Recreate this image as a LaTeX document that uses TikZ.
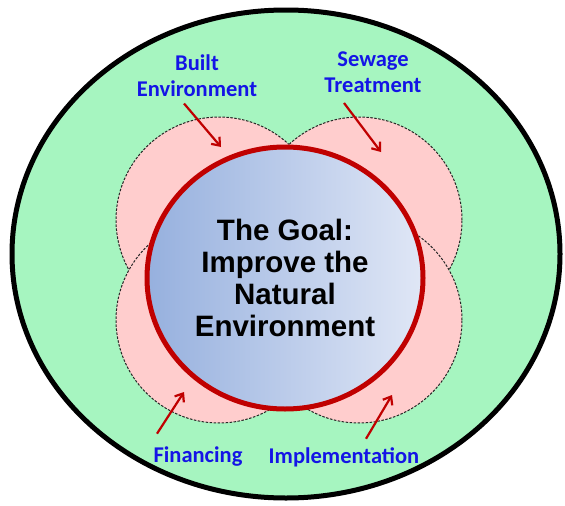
\documentclass[tikz,border=0pt]{standalone}
\usepackage{fontspec}
\setmainfont{Liberation Sans}
\newfontfamily\labelfont{Carlito}
\usetikzlibrary{arrows.meta}
\definecolor{outergreen}{RGB}{166,245,192}
\definecolor{petalpink}{RGB}{255,205,205}
\definecolor{goalred}{RGB}{192,0,0}
\definecolor{goalblueL}{RGB}{150,176,222}
\definecolor{goalblueR}{RGB}{224,231,246}
\definecolor{labelblue}{RGB}{20,20,230}

\begin{document}
\begin{tikzpicture}[x=1pt,y=-1pt]
      \useasboundingbox (0,0) rectangle (565,506);
      % outer field
      \draw[line width=5pt, fill=outergreen] (286,254) ellipse [x radius=274pt, y radius=244pt];
      % four petals
      \begin{scope}[every path/.style={fill=petalpink, draw=black!85, line width=1pt, dash pattern=on 2.5pt off 1.5pt}]
        \path (219,220) circle [radius=103pt];
        \path (359,220) circle [radius=103pt];
        \path (219,320) circle [radius=103pt];
        \path (359,320) circle [radius=103pt];
      \end{scope}
      % the goal
      \shade[left color=goalblueL, right color=goalblueR] (285,278) ellipse [x radius=138pt, y radius=131pt];
      \draw[goalred, line width=5pt] (285,278) ellipse [x radius=138pt, y radius=131pt];
      \node[font=\bfseries\fontsize{29.5}{32}\selectfont, align=center] (goal) at (285,278)
        {The Goal:\\Improve the\\Natural\\Environment};
      \begin{scope}[every node/.style={font=\labelfont\bfseries\fontsize{22.5}{26}\selectfont, text=labelblue, align=center}]
        \node (built) at (197,76) {Built\\Environment};
        \node (sewage) at (373,72) {Sewage\\Treatment};
        \node (financing) at (198,457) {Financing};
        \node (implementation) at (344,457) {Implementation};
      \end{scope}
      \coordinate (builtTip) at (221,147);
      \coordinate (sewageTip) at (381,152);
      \coordinate (financingTip) at (184,392);
      \coordinate (implementationTip) at (392,395);
      \begin{scope}[every path/.style={draw=goalred, line width=2.2pt, -{Straight Barb[length=7pt,width=11pt]}}]
        \path ([xshift=-13pt,yshift=-3pt]built.south) -- (builtTip);
        \path ([xshift=-29pt,yshift=-7pt]sewage.south) -- (sewageTip);
        \path ([xshift=-41pt,yshift=10pt]financing.north) -- (financingTip);
        \path ([xshift=22pt,yshift=5pt]implementation.north) -- (implementationTip);
      \end{scope}
    \end{tikzpicture}
\end{document}
